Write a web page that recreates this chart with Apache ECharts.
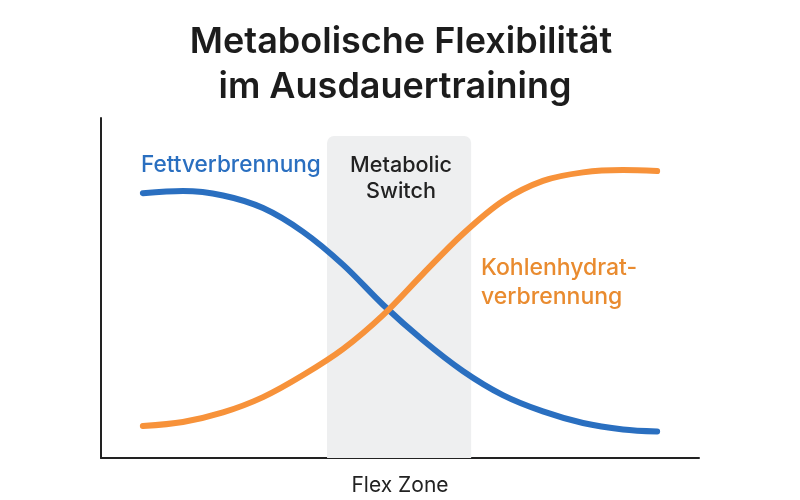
<!DOCTYPE html>
<html>
<head>
<meta charset="utf-8">
<style>
  html, body { margin: 0; padding: 0; background: #fff; }
  #chart { width: 800px; height: 500px; }
</style>
<script src="https://cdn.jsdelivr.net/npm/echarts@6/dist/echarts.min.js"></script>
</head>
<body>
<div id="chart"></div>
<script>
// Werte (x und y jeweils 0-100)
const xValues = [7.0, 13.7, 20.4, 27.1, 33.8, 40.5, 47.2, 53.8, 60.5, 67.2, 73.9, 80.6, 87.3, 93.0];
const fatY = [77.9, 78.5, 77.2, 73.5, 66.5, 56.8, 45.0, 34.7, 25.6, 18.5, 13.7, 10.3, 8.4, 7.8];
const carbY = [9.4, 10.6, 13.4, 17.9, 24.4, 32.1, 42.1, 54.1, 65.9, 75.6, 81.5, 84.0, 84.7, 84.4];
const zoneX = [37.8, 61.9];
const zoneTop = 94.7;

const textFont = 'Inter, Roboto, sans-serif';
const fatColor = '#2a6fc0';
const carbColor = '#f7923a';

function pairs(xs, ys) {
  return xs.map((x, i) => [x, ys[i]]);
}

const chart = echarts.init(document.getElementById('chart'));
chart.setOption({
  animation: false,
  backgroundColor: '#ffffff',
  title: [
    { text: 'Metabolische Flexibilität', left: 396, top: 19, textAlign: 'center',
      textStyle: { fontFamily: textFont, fontSize: 36, fontWeight: 600, color: '#1c1c1c' } },
    { text: 'im Ausdauertraining', left: 390, top: 64, textAlign: 'center',
      textStyle: { fontFamily: textFont, fontSize: 36, fontWeight: 600, color: '#1c1c1c' } }
  ],
  grid: { left: 101, right: 101, top: 118, bottom: 42, outerBoundsMode: 'none' },
  xAxis: {
    type: 'value', min: 0, max: 100,
    name: 'Flex Zone', nameLocation: 'middle', nameGap: 17,
    nameTextStyle: { fontFamily: textFont, fontSize: 21, color: '#222222' },
    axisLine: { show: true, lineStyle: { color: '#222222', width: 2 } },
    axisTick: { show: false }, axisLabel: { show: false }, splitLine: { show: false }
  },
  yAxis: {
    type: 'value', min: 0, max: 100,
    axisLine: { show: true, lineStyle: { color: '#222222', width: 2 } },
    axisTick: { show: false }, axisLabel: { show: false }, splitLine: { show: false }
  },
  series: [
    {
      // graue Zone mit runden Ecken oben
      type: 'custom',
      silent: true,
      z: 1,
      data: [[zoneX[0], zoneX[1], zoneTop]],
      renderItem: function (params, api) {
        const topLeft = api.coord([api.value(0), api.value(2)]);
        const bottomRight = api.coord([api.value(1), 0]);
        return {
          type: 'rect',
          shape: { x: topLeft[0], y: topLeft[1], width: bottomRight[0] - topLeft[0], height: bottomRight[1] - topLeft[1], r: [7, 7, 0, 0] },
          style: { fill: '#eeeff0' }
        };
      }
    },
    {
      name: 'Fettverbrennung', type: 'line', smooth: 0.33, symbol: 'none', z: 3,
      lineStyle: { color: fatColor, width: 6, cap: 'round' },
      data: pairs(xValues, fatY)
    },
    {
      name: 'Kohlenhydratverbrennung', type: 'line', smooth: 0.33, symbol: 'none', z: 4,
      lineStyle: { color: carbColor, width: 6, cap: 'round' },
      data: pairs(xValues, carbY)
    }
  ],
  graphic: [
    { type: 'text', x: 141, y: 154, z: 10,
      style: { text: 'Fettverbrennung', fill: '#2a6fc0', font: '500 22.6px ' + textFont } },
    { type: 'text', x: 401, y: 152, z: 10,
      style: { text: 'Metabolic\nSwitch', fill: '#222222', textAlign: 'center', lineHeight: 26, font: '500 21.6px ' + textFont } },
    { type: 'text', x: 481, y: 254, z: 10,
      style: { text: 'Kohlenhydrat-\nverbrennung', fill: '#e98b2f', lineHeight: 29, font: '500 23px ' + textFont } }
  ]
});
</script>
</body>
</html>
